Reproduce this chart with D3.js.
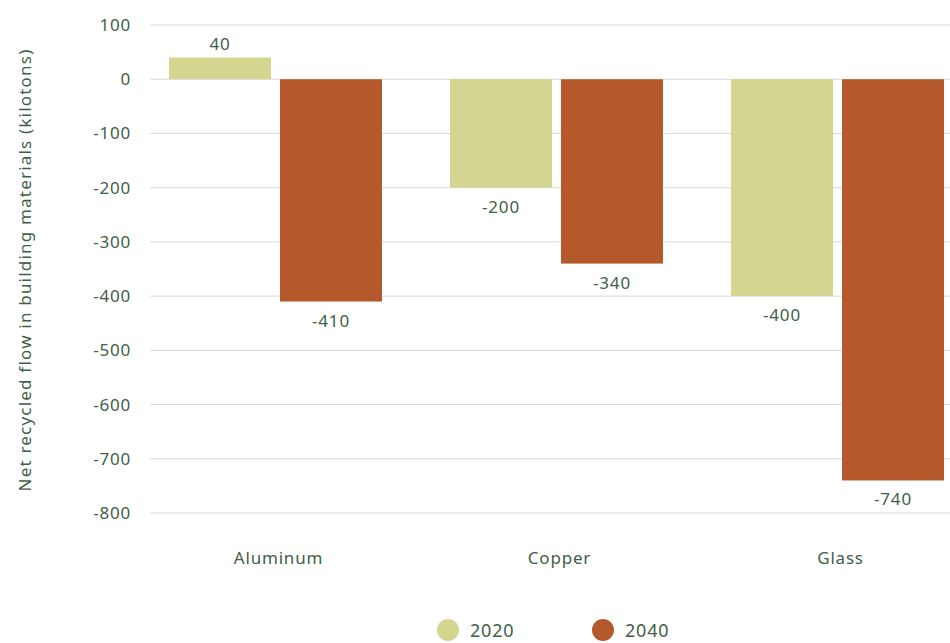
<!DOCTYPE html>
<html>
<head>
<meta charset="utf-8">
<script src="https://cdn.jsdelivr.net/npm/d3@7"></script>
<style>
  body { margin: 0; background: #fff; }
  svg text { font-family: "Noto Sans", sans-serif; fill: #3f6048; letter-spacing: 0.8px; }
</style>
</head>
<body>
<svg id="chart"></svg>
<script>
const categories = ["Aluminum", "Copper", "Glass"];
const seriesNames = ["2020", "2040"];
const values2020 = [40, -200, -400];
const values2040 = [-410, -340, -740];
const yTicks = [100, 0, -100, -200, -300, -400, -500, -600, -700, -800];

const colors = { "2020": "#d3d591", "2040": "#b5582c" };
const width = 950, height = 643;

const svg = d3.select("#chart").attr("width", width).attr("height", height);

const yScale = d3.scaleLinear().domain([-800, 100]).range([513, 25]);
const x0 = d3.scaleBand().domain(categories).range([135, 978])
    .paddingInner(0.242).paddingOuter(0.121);
const x1 = d3.scaleBand().domain(seriesNames).range([0, x0.bandwidth()])
    .paddingInner(0.081);

// grid
svg.append("g").selectAll("line").data(yTicks).join("line")
    .attr("x1", 150).attr("x2", width)
    .attr("y1", d => yScale(d)).attr("y2", d => yScale(d))
    .attr("stroke", "#d9d9d9").attr("stroke-width", 1);

// y axis labels
const yAxis = d3.axisLeft(yScale).tickValues(yTicks).tickSize(0).tickPadding(0)
    .tickFormat(d => d < 0 ? "-" + Math.abs(d) : d);
const yg = svg.append("g").attr("transform", "translate(131,0)").call(yAxis);
yg.select(".domain").remove();
yg.selectAll("text").style("font-size", "17px").attr("fill", "#3f6048");

// x axis labels
const xAxis = d3.axisBottom(x0).tickSize(0).tickPadding(0);
const xg = svg.append("g").attr("transform", "translate(3,552)").call(xAxis);
xg.select(".domain").remove();
xg.selectAll("text").style("font-size", "17px").attr("fill", "#3f6048");

// bars
const rows = categories.map((c, i) => ({ cat: c, "2020": values2020[i], "2040": values2040[i] }));
const groups = svg.append("g").selectAll("g").data(rows).join("g")
    .attr("transform", d => "translate(" + x0(d.cat) + ",0)");

const cells = groups.selectAll("g").data(d => seriesNames.map(s => ({ s: s, v: d[s] }))).join("g");

cells.append("rect")
    .attr("x", d => x1(d.s))
    .attr("width", x1.bandwidth())
    .attr("y", d => yScale(Math.max(0, d.v)))
    .attr("height", d => Math.abs(yScale(d.v) - yScale(0)))
    .attr("fill", d => colors[d.s]);

cells.append("text")
    .attr("x", d => x1(d.s) + x1.bandwidth() / 2)
    .attr("y", d => d.v >= 0 ? yScale(d.v) - 8 : yScale(d.v) + 25)
    .attr("text-anchor", "middle")
    .style("font-size", "17px")
    .text(d => d.v < 0 ? "-" + Math.abs(d.v) : d.v);

// y title
svg.append("text")
    .attr("transform", "translate(31,270) rotate(-90)")
    .attr("text-anchor", "middle")
    .style("font-size", "17px")
    .style("letter-spacing", "1.2px")
    .text("Net recycled flow in building materials (kilotons)");

// legend
const legend = svg.append("g").selectAll("g").data(seriesNames).join("g")
    .attr("transform", (d, i) => "translate(" + (448 + i * 155) + ",630)");
legend.append("circle").attr("r", 11).attr("fill", d => colors[d]);
legend.append("text").attr("x", 22).attr("y", 7)
    .style("font-size", "18px").text(d => d);
</script>
</body>
</html>
